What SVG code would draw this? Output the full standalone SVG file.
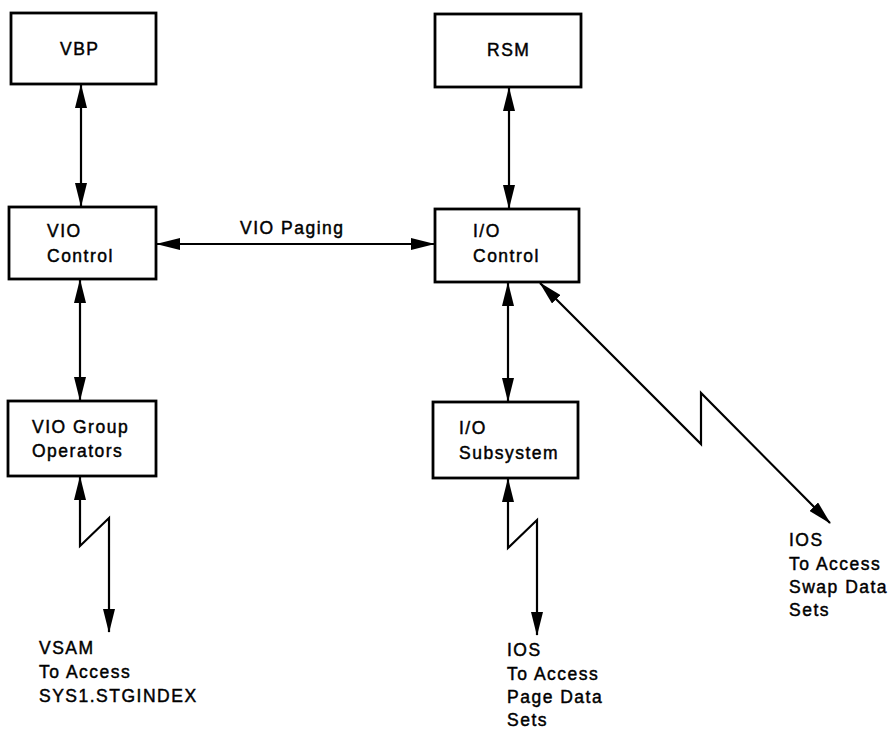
<svg xmlns="http://www.w3.org/2000/svg" width="890" height="731" viewBox="0 0 890 731">
<style>
.box{fill:#fff;stroke:#000;stroke-width:2.8}
.ln{fill:none;stroke:#000;stroke-width:2.2}
.t{font-family:"Liberation Sans",Arial,sans-serif;font-size:17.5px;letter-spacing:1.5px;fill:#000;stroke:#000;stroke-width:0.45}
</style>
<defs>
<marker id="ah" viewBox="0 0 24 12" refX="23" refY="6" markerWidth="24" markerHeight="12" markerUnits="userSpaceOnUse" orient="auto-start-reverse">
<path d="M0,0 L24,6 L0,12 z" fill="#000"/>
</marker>
</defs>
<rect width="890" height="731" fill="#fff"/>
<g id="connectors">
<line class="ln" x1="81" y1="85" x2="81" y2="206" marker-start="url(#ah)" marker-end="url(#ah)"/>
<line class="ln" x1="509" y1="88" x2="509" y2="208" marker-start="url(#ah)" marker-end="url(#ah)"/>
<line class="ln" x1="80" y1="280" x2="80" y2="400" marker-start="url(#ah)" marker-end="url(#ah)"/>
<line class="ln" x1="508" y1="283" x2="508" y2="401" marker-start="url(#ah)" marker-end="url(#ah)"/>
<line class="ln" x1="157" y1="244" x2="434" y2="244" marker-start="url(#ah)" marker-end="url(#ah)"/>
<polyline class="ln" points="80,477 80,546 109,518 109,632" marker-start="url(#ah)" marker-end="url(#ah)"/>
<polyline class="ln" points="508,479 508,548 537,520 537,635" marker-start="url(#ah)" marker-end="url(#ah)"/>
<polyline class="ln" points="540,283 701,444 701,393 830,523" marker-start="url(#ah)" marker-end="url(#ah)"/>
<text class="t" x="240" y="234">VIO Paging</text>
</g>
<g id="vbp">
<rect class="box" x="11" y="13" width="145" height="71"/>
<text class="t" x="60" y="55">VBP</text>
</g>
<g id="rsm">
<rect class="box" x="435" y="14" width="146" height="73"/>
<text class="t" x="487" y="56">RSM</text>
</g>
<g id="vio-control">
<rect class="box" x="9" y="207" width="147" height="72"/>
<text class="t" x="47" y="237">VIO</text>
<text class="t" x="47" y="262">Control</text>
</g>
<g id="io-control">
<rect class="box" x="435" y="209" width="144" height="73"/>
<text class="t" x="473" y="237">I/O</text>
<text class="t" x="473" y="262">Control</text>
</g>
<g id="vio-group">
<rect class="box" x="8" y="401" width="148" height="75"/>
<text class="t" x="32" y="433">VIO Group</text>
<text class="t" x="32" y="457">Operators</text>
</g>
<g id="io-subsystem">
<rect class="box" x="433" y="402" width="145" height="76"/>
<text class="t" x="459" y="434">I/O</text>
<text class="t" x="459" y="459">Subsystem</text>
</g>
<g id="vsam">
<text class="t" x="39" y="654">VSAM</text>
<text class="t" x="39" y="678">To Access</text>
<text class="t" x="39" y="702">SYS1.STGINDEX</text>
</g>
<g id="ios-page">
<text class="t" x="507" y="656">IOS</text>
<text class="t" x="507" y="680">To Access</text>
<text class="t" x="507" y="703">Page Data</text>
<text class="t" x="507" y="726">Sets</text>
</g>
<g id="ios-swap">
<text class="t" x="789" y="546">IOS</text>
<text class="t" x="789" y="570">To Access</text>
<text class="t" x="789" y="593">Swap Data</text>
<text class="t" x="789" y="616">Sets</text>
</g>
</svg>
